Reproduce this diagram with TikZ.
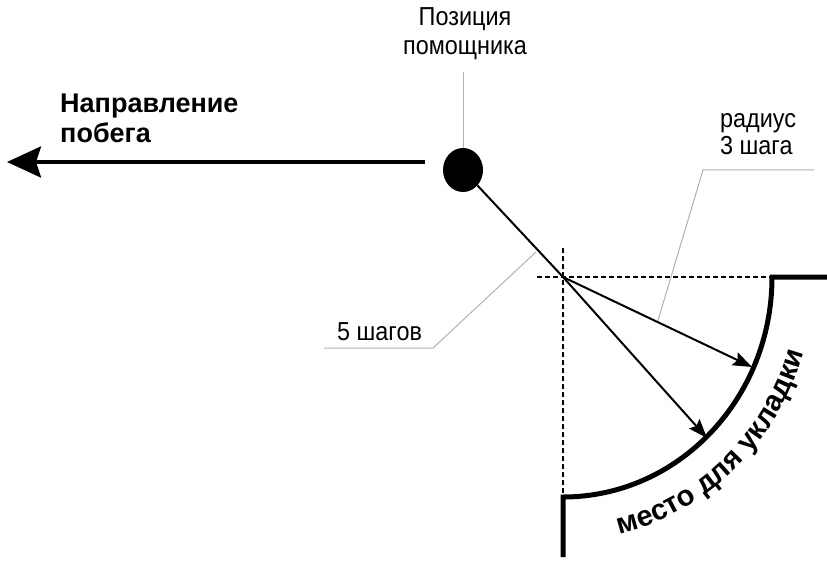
\documentclass[tikz,border=0pt]{standalone}
\usepackage{fontspec}
\setmainfont{Liberation Sans}
\newfontfamily\narrowfont[FakeStretch=0.9]{Liberation Sans}
\usetikzlibrary{arrows.meta,shapes.geometric,decorations.text,calc}
\begin{document}
\begin{tikzpicture}[x=1pt,y=-1pt,
  lbl/.style={font=\narrowfont\fontsize{26}{29}\selectfont, inner sep=0pt},
  hdr/.style={font=\bfseries\fontsize{27}{30}\selectfont, inner sep=0pt},
  leader/.style={draw=black!30, line width=1pt},
  thinarrow/.style={line width=2pt, -{Stealth[length=19pt,width=14pt,inset=3pt]}},
  dashline/.style={line width=2pt, dash pattern=on 5pt off 3pt},
  border/.style={line width=5pt, line join=miter}
]
\useasboundingbox[fill=white] (0,0) rectangle (827,564);

% nodes and coordinates
\node[ellipse, fill=black, minimum width=40pt, minimum height=44pt, inner sep=0pt] (dot) at (463,170) {};
\coordinate (cross) at (563,277);
\coordinate (t1) at (752,367);
\coordinate (t2) at (707,438);
\coordinate (escStart) at (425,162);
\coordinate (escEnd) at (7,162);

% labels
\node[lbl, anchor=base] (pos1) at (465,26) {Позиция};
\node[lbl, anchor=base] (pos2) at (465,55) {помощника};
\node[lbl, anchor=base west] (rad1) at (720,128) {радиус};
\node[lbl, anchor=base west] (rad2) at (720,155) {3 шага};
\node[lbl, anchor=base west] (five) at (337,340) {5 шагов};
\node[hdr, anchor=base west] (esc1) at (60,113) {Направление};
\node[hdr, anchor=base west] (esc2) at (60,143) {побега};

% leader lines
\coordinate (posLead) at (463,72);
\draw[leader] (posLead) -- (dot.north);
\path (cross) -- (t1) coordinate[pos=0.5] (r1);
\coordinate (radA) at (814,170);
\coordinate (radB) at (703,170);
\draw[leader] (radA) -- (radB) -- (r1);
\coordinate (fiveA) at (324,348);
\coordinate (fiveB) at (433,348);
\coordinate (fiveC) at (536,252);
\draw[leader] (fiveA) -- (fiveB) -- (fiveC);

% escape arrow
\draw[line width=4pt, -{Stealth[length=34pt,width=31pt,inset=5pt]}] (escStart) -- (escEnd);

% dashed cross
\coordinate (dh1) at (537,277);
\coordinate (dh2) at (772,277);
\coordinate (dv1) at (563,248);
\coordinate (dv2) at (563,497);
\draw[dashline] (dh1) -- (dh2);
\draw[dashline] (dv1) -- (dv2);

% path from helper
\draw[line width=2pt] (dot) -- (cross);
\draw[thinarrow] (cross) -- (t1);
\draw[thinarrow] (cross) -- (t2);

% border of the laying place
\coordinate (bTop) at (827,277);
\coordinate (bBot) at (563,557);
\draw[border] (bTop) -- (dh2) arc[start angle=0, end angle=-90, x radius=209pt, y radius=220pt] -- (bBot);

% curved text
\coordinate (txtStart) at ($(cross)+(-77:251pt and 264pt)$);
\path[decorate, decoration={text along path, text align=left,
   text={|\bfseries\fontsize{29}{31}\selectfont|место для укладки}}]
   (txtStart) arc[start angle=-77, end angle=-3, x radius=251pt, y radius=264pt];
\end{tikzpicture}
\end{document}
